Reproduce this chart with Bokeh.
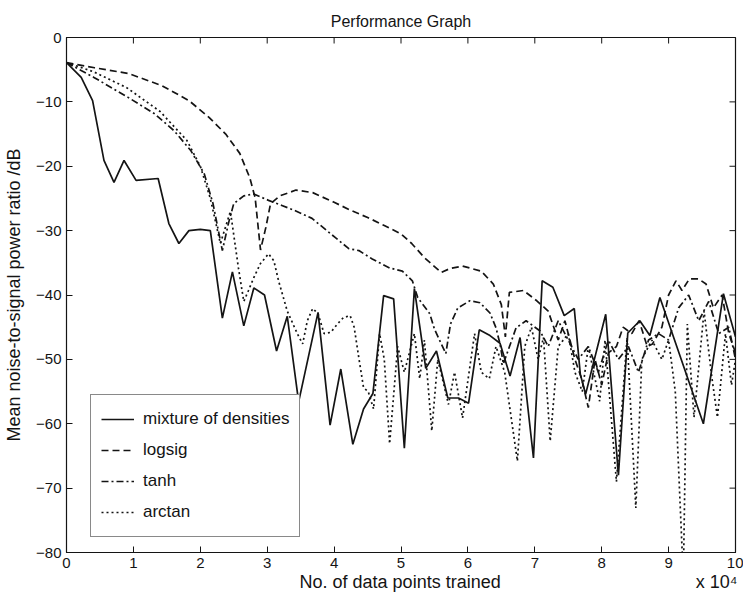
from bokeh.plotting import figure
from bokeh.models import FixedTicker, Legend, LegendItem, Range1d
from bokeh.embed import file_html
from bokeh.resources import INLINE

# ---- data (x in units of 10^4 data points, y in dB) ----
x_ticks = [0, 1, 2, 3, 4, 5, 6, 7, 8, 9, 10]
y_ticks = [-80, -70, -60, -50, -40, -30, -20, -10, 0]

mix_x = [0.0, 0.22, 0.39, 0.56, 0.71, 0.86, 1.04, 1.37, 1.53, 1.68, 1.83, 2.0, 2.15, 2.33, 2.48,
         2.65, 2.8, 2.96, 3.14, 3.3, 3.47, 3.76, 3.94, 4.1, 4.28, 4.44, 4.58, 4.74, 4.89, 5.05,
         5.2, 5.37, 5.53, 5.7, 5.86, 6.01, 6.17, 6.33, 6.48, 6.63, 6.78, 6.98, 7.11, 7.27, 7.44,
         7.59, 7.68, 7.76, 8.06, 8.25, 8.39, 8.57, 8.72, 8.87, 9.52, 9.82, 10.0]
mix_y = [-3.9, -6.2, -9.8, -19.1, -22.5, -19.1, -22.2, -21.9, -28.9, -32.0, -30.0, -29.8, -30.0,
         -43.6, -36.4, -44.8, -38.9, -40.0, -48.7, -43.3, -56.6, -42.7, -60.2, -51.5, -63.2,
         -57.7, -55.3, -40.1, -40.6, -63.8, -39.0, -51.4, -48.7, -56.0, -56.0, -56.8, -45.4,
         -46.3, -47.5, -52.6, -46.6, -65.3, -37.8, -38.8, -43.2, -42.1, -52.3, -55.4, -43.0,
         -68.0, -45.9, -44.0, -46.3, -40.4, -60.0, -39.8, -46.5]

logsig_x = [0.0, 0.42, 0.93, 1.43, 1.83, 2.13, 2.38, 2.59, 2.74, 2.82, 2.9, 2.98, 3.05, 3.19, 3.43,
            3.68, 4.0, 4.26, 4.51, 4.75, 5.0, 5.16, 5.35, 5.6, 5.73, 5.92, 6.2, 6.38, 6.5, 6.56,
            6.62, 6.83, 7.03, 7.2, 7.35, 7.45, 7.6, 7.7, 7.8, 7.9, 8.0, 8.1, 8.22, 8.32, 8.45,
            8.56, 8.68, 8.76, 8.9, 9.0, 9.11, 9.2, 9.31, 9.45, 9.56, 9.67, 9.8, 9.9, 10.0]
logsig_y = [-3.9, -4.7, -5.6, -7.5, -9.8, -12.4, -15.0, -18.0, -21.8, -24.9, -33.0, -29.5, -25.8,
            -24.6, -23.7, -24.1, -25.6, -26.9, -28.0, -29.2, -30.5, -32.0, -34.2, -36.5, -35.9,
            -35.5, -36.3, -38.3, -41.5, -46.5, -39.6, -39.3, -40.9, -42.5, -47.0, -44.0, -50.0,
            -53.0, -57.5, -50.0, -54.0, -49.0, -48.0, -45.0, -46.0, -44.0, -48.0, -47.6, -45.0,
            -40.0, -37.8, -39.3, -37.5, -37.5, -38.3, -42.0, -40.0, -46.0, -49.0]

tanh_x = [0.0, 0.41, 0.92, 1.31, 1.61, 1.86, 2.06, 2.19, 2.27, 2.33, 2.42, 2.5, 2.65, 2.8, 3.02,
          3.22, 3.42, 3.67, 4.02, 4.22, 4.37, 4.57, 4.83, 5.02, 5.17, 5.25, 5.43, 5.5, 5.67, 5.74,
          5.85, 6.03, 6.18, 6.33, 6.42, 6.48, 6.53, 6.72, 6.87, 7.08, 7.2, 7.35, 7.5, 7.65, 7.8,
          7.95, 8.1, 8.25, 8.4, 8.55, 8.7, 8.85, 9.0, 9.15, 9.3, 9.45, 9.6, 9.75, 9.9, 10.0]
tanh_y = [-3.9, -6.2, -9.3, -11.8, -14.5, -17.6, -21.2, -25.8, -30.0, -33.1, -28.9, -25.8, -24.6,
          -24.3, -25.3, -26.1, -26.9, -28.1, -31.1, -32.8, -33.1, -34.4, -35.8, -36.3, -37.8,
          -40.4, -42.9, -45.3, -49.1, -44.5, -42.0, -40.9, -41.2, -42.8, -45.1, -47.6, -50.7,
          -45.1, -44.0, -45.6, -48.0, -44.0, -47.0, -50.0, -48.0, -52.0, -47.0, -50.0, -48.0,
          -52.0, -47.0, -46.0, -47.0, -42.0, -40.0, -44.0, -41.0, -46.0, -45.0, -50.0]

arctan_x = [0.0, 0.4, 0.9, 1.4, 1.8, 2.0, 2.15, 2.3, 2.45, 2.57, 2.65, 2.72, 2.8, 2.9, 3.02, 3.1,
            3.17, 3.3, 3.45, 3.53, 3.6, 3.68, 3.76, 3.85, 3.95, 4.05, 4.14, 4.24, 4.3, 4.37, 4.44,
            4.51, 4.59, 4.68, 4.75, 4.83, 4.95, 5.05, 5.2, 5.28, 5.35, 5.46, 5.55, 5.71, 5.8,
            5.92, 6.1, 6.2, 6.32, 6.42, 6.55, 6.74, 6.85, 6.95, 7.05, 7.13, 7.23, 7.35, 7.5, 7.6,
            7.71, 7.8, 7.97, 8.05, 8.22, 8.38, 8.51, 8.6, 8.75, 8.9, 9.0, 9.1, 9.22, 9.28, 9.38,
            9.53, 9.64, 9.73, 9.85, 9.94, 10.0]
arctan_y = [-3.9, -5.3, -7.8, -11.5, -16.0, -20.0, -25.0, -32.0, -27.0, -35.8, -41.0, -39.3,
            -37.3, -35.1, -33.6, -34.7, -37.8, -42.5, -46.0, -47.6, -44.0, -42.1, -42.9, -46.0,
            -45.8, -44.5, -43.5, -43.2, -45.0, -49.8, -54.4, -55.0, -57.7, -46.0, -50.0, -63.1,
            -48.0, -52.0, -46.0, -53.0, -47.0, -61.1, -50.0, -57.0, -52.0, -59.1, -46.0, -52.0,
            -53.0, -48.0, -52.0, -65.8, -48.0, -45.0, -50.0, -46.6, -62.7, -48.0, -46.0, -52.0,
            -55.0, -48.0, -56.5, -47.0, -69.0, -46.6, -73.1, -50.0, -47.0, -50.0, -47.0, -55.0,
            -84.0, -44.5, -59.0, -42.5, -52.3, -59.0, -46.0, -54.0, -50.0]

series_names = ["mixture of densities", "logsig", "tanh", "arctan"]
x_label = "No. of data points trained"
x_scale_note = "x 10\u2074"
y_label = "Mean noise-to-signal power ratio /dB"
title_text = "Performance Graph"

FONT = "Liberation Sans"
INK = "#141414"
W, H = 743, 602
B_LEFT, B_RIGHT, B_TOP, B_BOTTOM = 66, 8, 37, 50
X0, X1, Y0, Y1 = 0, 10, -80, 0

p = figure(width=W, height=H, x_range=Range1d(X0, X1), y_range=Range1d(Y0, Y1),
           output_backend="svg", toolbar_location=None,
           min_border_left=B_LEFT, min_border_right=B_RIGHT,
           min_border_top=B_TOP, min_border_bottom=B_BOTTOM)
p.title.text = title_text
p.title.align = "center"
p.title.text_font = FONT
p.title.text_font_size = "16px"
p.title.text_font_style = "normal"
p.title.text_color = INK
p.title.standoff = 16
p.grid.visible = False
p.outline_line_color = INK
p.outline_line_width = 1.2
p.background_fill_color = "white"
p.border_fill_color = "white"

TICK = 6
for ax, ticks in ((p.xaxis[0], x_ticks), (p.yaxis[0], y_ticks)):
    ax.ticker = FixedTicker(ticks=ticks)
    ax.major_tick_in = TICK
    ax.major_tick_out = 0
    ax.minor_tick_in = 0
    ax.minor_tick_out = 0
    ax.axis_line_color = INK
    ax.major_tick_line_color = INK
    ax.major_label_text_font = FONT
    ax.major_label_text_font_size = "15px"
    ax.major_label_text_color = INK
    ax.major_label_standoff = 5
    ax.axis_label_text_font = FONT
    ax.axis_label_text_font_size = "18px"
    ax.axis_label_text_font_style = "normal"
    ax.axis_label_text_color = INK

# x-axis label, with the "x 10^4" scale note pushed to the right end of the same line
NB = "\u00a0"
p.xaxis[0].axis_label = NB * 47 + x_label + NB * 39 + x_scale_note
p.xaxis[0].axis_label_standoff = 1
p.yaxis[0].axis_label = y_label
p.yaxis[0].axis_label_standoff = 9

# inner ticks on the top and right edges (mirrors of the bottom/left axes)
frame_w = W - B_LEFT - B_RIGHT
frame_h = H - B_TOP - B_BOTTOM
dy = TICK * (Y1 - Y0) / frame_h
dx = TICK * (X1 - X0) / frame_w
p.segment(x0=x_ticks, y0=[Y1] * len(x_ticks), x1=x_ticks, y1=[Y1 - dy] * len(x_ticks),
          line_color=INK, line_width=1)
p.segment(x0=[X1] * len(y_ticks), y0=y_ticks, x1=[X1 - dx] * len(y_ticks), y1=y_ticks,
          line_color=INK, line_width=1)

LW = 1.7
r_mix = p.line(mix_x, mix_y, line_color=INK, line_width=LW)
r_log = p.line(logsig_x, logsig_y, line_color=INK, line_width=LW, line_dash="7 4")
r_tanh = p.line(tanh_x, tanh_y, line_color=INK, line_width=LW, line_dash="7 3 2 3")
r_atan = p.line(arctan_x, arctan_y, line_color=INK, line_width=LW, line_dash="2 3")

legend = Legend(items=[LegendItem(label=n, renderers=[r]) for n, r in
                       zip(series_names, [r_mix, r_log, r_tanh, r_atan])],
                location=(24, 15))
legend.label_text_font = FONT
legend.label_text_font_size = "17px"
legend.label_text_color = INK
legend.glyph_width = 33
legend.glyph_height = 28
legend.label_height = 28
legend.spacing = 3
legend.padding = 10
legend.label_standoff = 9
legend.border_line_color = INK
legend.border_line_width = 1.2
legend.background_fill_color = "white"
legend.background_fill_alpha = 1.0
p.add_layout(legend)

open("out.html", "w").write(file_html(p, INLINE))
